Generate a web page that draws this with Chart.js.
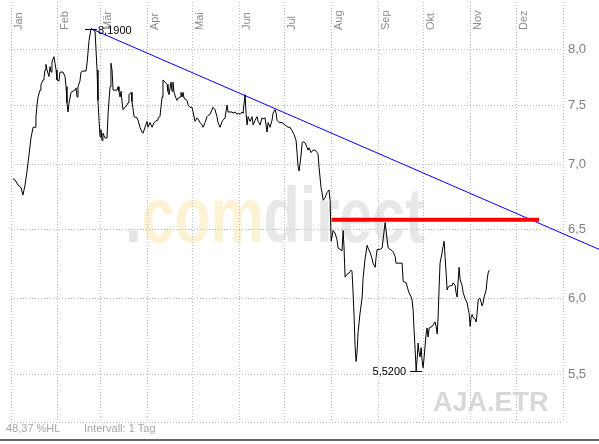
<!DOCTYPE html>
<html>
<head>
<meta charset="utf-8">
<script src="https://cdn.jsdelivr.net/npm/chart.js"></script>
<style>
html,body{margin:0;padding:0;background:#ffffff;}
canvas{display:block;}
</style>
</head>
<body>
<canvas id="c" width="599" height="444"></canvas>
<script>
// ---- data ----
const months = ['Jan','Feb','Mär','Apr','Mai','Jun','Jul','Aug','Sep','Okt','Nov','Dez'];
const monthStarts = [0,31,59,90,120,151,181,212,243,273,304,334,365];
const yTicks = [5.5,6.0,6.5,7.0,7.5,8.0];
const yMin = 5.204, yMax = 8.446;

const days = [
1.3,2.6,4.6,6.6,7.9,9.3,10.6,11.9,13.2,14.6,15.9,16.5,17.2,17.9,19.2,19.8,21.2,21.8,22.5,23.1,
23.8,25.1,25.8,26.5,27.1,28.4,29.1,29.8,30.4,31.7,32.4,34.4,35.7,36.4,37.0,37.7,38.4,39.7,41.0,42.3,
43.0,43.7,44.3,45.6,46.3,47.6,49.6,50.3,51.6,52.9,54.2,54.9,55.6,56.9,57.5,58.2,58.9,59.5,60.2,60.8,
62.2,63.5,64.2,65.5,66.1,66.8,67.5,70.1,70.8,71.4,72.1,72.8,73.4,74.1,75.4,76.7,77.4,78.0,79.4,80.0,
81.4,83.3,84.0,85.3,86.6,87.3,88.6,90.0,90.6,91.9,93.3,94.6,96.6,97.2,98.5,99.9,100.5,101.9,103.2,103.8,
104.5,105.8,106.5,107.1,107.8,109.1,109.8,110.5,111.8,112.4,113.1,113.8,114.4,116.4,117.1,118.4,119.7,120.4,121.7,123.0,
123.7,125.0,126.3,127.0,128.3,129.6,130.3,131.6,132.9,133.6,134.9,136.2,136.9,138.2,139.6,140.2,141.5,142.9,143.5,144.8,
146.2,146.8,148.2,149.5,150.1,151.5,152.8,153.4,154.8,155.4,156.1,156.8,158.1,159.4,160.1,161.4,162.7,163.4,164.7,166.0,
166.7,168.0,169.3,170.0,171.3,172.6,173.3,174.6,175.3,175.9,177.3,179.2,181.2,183.2,184.5,185.9,187.2,188.5,189.2,189.8,
190.5,191.8,192.5,193.1,194.5,195.8,196.4,197.1,198.4,199.7,201.1,202.4,203.0,203.7,205.0,205.7,206.4,207.7,208.3,209.0,
210.3,211.0,211.7,213.0,214.3,215.6,216.3,217.6,218.9,219.6,220.2,220.9,222.2,223.6,224.9,225.5,226.2,226.9,227.5,228.2,
228.8,229.5,230.8,232.2,232.8,234.1,235.5,236.1,237.4,238.8,239.4,240.8,241.4,242.1,244.1,245.4,246.0,247.4,248.7,249.4,
250.7,252.0,252.7,254.0,254.6,257.3,258.6,259.3,261.3,262.6,263.2,264.6,265.2,265.9,266.5,267.2,267.9,268.5,269.2,269.8,
270.5,271.2,271.8,272.5,273.2,273.8,274.5,275.1,275.8,276.5,278.5,279.1,280.4,281.1,281.8,282.4,283.1,283.7,285.1,285.7,
286.4,287.0,287.7,288.4,289.0,290.4,291.7,292.3,293.7,294.3,295.0,295.7,296.3,297.0,298.3,299.0,300.3,301.6,302.3,302.9,
303.6,304.2,304.9,305.6,306.9,307.6,308.2,308.9,309.5,310.2,311.5,312.2,312.8,314.2,314.8,315.5,316.2
];
const prices = [
6.89,6.88,6.84,6.82,6.76,6.84,6.95,7.08,7.22,7.31,7.31,7.40,7.50,7.57,7.63,7.68,7.72,7.74,7.81,7.86,
7.81,7.75,7.84,7.79,7.88,7.93,7.87,7.81,7.72,7.71,7.79,7.79,7.75,7.66,7.52,7.44,7.52,7.61,7.62,7.63,
7.65,7.57,7.66,7.71,7.79,7.80,7.80,7.87,8.08,8.19,8.18,8.17,8.16,7.81,7.54,7.37,7.23,7.29,7.20,7.26,
7.22,7.22,7.43,7.66,7.87,7.81,7.63,7.63,7.66,7.62,7.57,7.62,7.53,7.46,7.48,7.50,7.52,7.59,7.61,7.53,
7.40,7.39,7.37,7.31,7.27,7.26,7.31,7.36,7.31,7.35,7.31,7.35,7.37,7.39,7.40,7.57,7.72,7.70,7.68,7.62,
7.59,7.70,7.62,7.70,7.61,7.56,7.54,7.56,7.57,7.61,7.57,7.61,7.56,7.54,7.50,7.48,7.48,7.44,7.36,7.39,
7.38,7.35,7.33,7.31,7.35,7.40,7.41,7.42,7.46,7.48,7.46,7.40,7.35,7.31,7.36,7.37,7.39,7.50,7.44,7.44,
7.44,7.43,7.44,7.42,7.43,7.42,7.44,7.43,7.59,7.43,7.33,7.40,7.36,7.40,7.33,7.37,7.40,7.36,7.33,7.39,
7.38,7.39,7.27,7.35,7.31,7.37,7.43,7.46,7.43,7.37,7.35,7.35,7.33,7.31,7.31,7.28,7.25,7.20,7.09,6.99,
6.95,7.08,7.18,7.19,7.18,7.14,7.12,7.14,7.10,7.12,7.12,7.10,7.09,6.98,6.82,6.78,6.72,6.74,6.76,6.78,
6.80,6.72,6.41,6.49,6.47,6.42,6.36,6.35,6.34,6.49,6.37,6.15,6.17,6.18,6.20,6.19,6.04,5.87,5.68,5.58,
5.64,5.77,5.90,6.01,6.14,6.28,6.38,6.36,6.33,6.28,6.25,6.22,6.29,6.35,6.35,6.36,6.42,6.55,6.42,6.36,
6.35,6.34,6.33,6.30,6.25,6.25,6.25,6.12,6.11,6.06,6.04,6.01,5.99,5.92,5.79,5.66,5.52,5.59,5.70,5.64,
5.61,5.67,5.59,5.54,5.61,5.68,5.76,5.80,5.74,5.80,5.81,5.82,5.84,5.81,5.76,5.87,6.08,6.25,6.33,6.37,
6.41,6.30,6.18,6.06,6.08,6.09,6.09,6.11,6.09,6.04,6.01,6.13,6.22,6.13,6.09,6.04,6.00,5.97,5.93,5.90,
5.81,5.87,5.89,5.87,5.86,5.84,5.90,5.99,6.00,6.00,5.95,5.97,6.01,6.06,6.13,6.18,6.20
];
const trendDays = [52.9, 388.9];
const trendValues = [8.19, 6.35];
const resistDays = [212, 349.2];
const resistValues = [6.57, 6.57];
const footerTexts = ['48,37 %HL', 'Intervall: 1 Tag'];
const watermarkParts = ['.', 'com', 'direct'];
const symbolText = 'AJA.ETR';

// ---- chart ----
const FONT = '"Liberation Sans", Arial, sans-serif';
Chart.defaults.font.family = FONT;
const fmt = (v, d) => v.toFixed(d).replace('.', ',');

const decorPlugin = {
  id: 'decor',
  beforeDraw(chart) {
    const ctx = chart.ctx;
    ctx.save();
    // .comdirect watermark
    ctx.font = 'bold 77px ' + FONT;
    ctx.textBaseline = 'alphabetic';
    ctx.textAlign = 'left';
    const full = watermarkParts.join('');
    const w = ctx.measureText(full).width;
    const sx = 300 / w;
    ctx.translate(125, 242);
    ctx.scale(sx, 1);
    const cols = ['#e4e4e4', '#fcf2d4', '#e8e8e8'];
    let off = 0;
    watermarkParts.forEach((p, i) => {
      ctx.fillStyle = cols[i];
      ctx.fillText(p, off, 0);
      off += ctx.measureText(p).width;
    });
    ctx.restore();
    ctx.save();
    ctx.font = 'bold 27px ' + FONT;
    ctx.fillStyle = '#d8d8d8';
    ctx.textAlign = 'left';
    ctx.textBaseline = 'alphabetic';
    ctx.fillText(symbolText, 433, 411);
    ctx.restore();
  },
  afterDraw(chart) {
    const ctx = chart.ctx;
    const xs = chart.scales.x, ys = chart.scales.y;
    ctx.save();
    // month labels
    ctx.font = '11px ' + FONT;
    ctx.fillStyle = '#8c8c8c';
    ctx.textAlign = 'left';
    ctx.textBaseline = 'alphabetic';
    months.forEach((m, i) => {
      const x = xs.getPixelForValue(monthStarts[i]);
      ctx.save();
      ctx.translate(x + 10.5, 30);
      ctx.rotate(-Math.PI / 2);
      ctx.fillText(m, 0, 0);
      ctx.restore();
    });
    // high / low annotations
    let hi = 0, lo = 0;
    prices.forEach((p, i) => { if (p > prices[hi]) hi = i; if (p < prices[lo]) lo = i; });
    ctx.strokeStyle = '#000';
    ctx.lineWidth = 1;
    ctx.fillStyle = '#000';
    ctx.textBaseline = 'middle';
    const hx = xs.getPixelForValue(days[hi]), hy = Math.round(ys.getPixelForValue(prices[hi])) + 0.5;
    ctx.beginPath(); ctx.moveTo(hx - 6, hy); ctx.lineTo(hx + 6, hy); ctx.stroke();
    ctx.textAlign = 'left';
    ctx.fillText(fmt(prices[hi], 4), hx + 7, hy + 1);
    const lx = xs.getPixelForValue(days[lo]), ly = Math.round(ys.getPixelForValue(prices[lo])) + 0.5;
    ctx.beginPath(); ctx.moveTo(lx - 6, ly); ctx.lineTo(lx + 6, ly); ctx.stroke();
    ctx.textAlign = 'right';
    ctx.fillText(fmt(prices[lo], 4), lx - 10, ly);
    // footer
    ctx.font = '11px ' + FONT;
    ctx.fillStyle = '#a6a6a6';
    ctx.textAlign = 'left';
    ctx.textBaseline = 'alphabetic';
    ctx.fillText(footerTexts[0], 6, 432);
    ctx.fillText(footerTexts[1], 84, 432);
    ctx.fillStyle = '#666666';
    ctx.fillRect(0, 439, chart.width, 2);
    ctx.restore();
  }
};

const gridColor = '#b8b8c6';

new Chart(document.getElementById('c'), {
  type: 'line',
  data: {
    datasets: [
      {
        data: days.map((d, i) => ({ x: d, y: prices[i] })),
        borderColor: '#000000', borderWidth: 1, pointRadius: 0, tension: 0, fill: false
      },
      {
        data: resistDays.map((d, i) => ({ x: d, y: resistValues[i] })),
        borderColor: '#ff0000', borderWidth: 4, pointRadius: 0, fill: false
      },
      {
        data: trendDays.map((d, i) => ({ x: d, y: trendValues[i] })),
        borderColor: '#0000ff', borderWidth: 1, pointRadius: 0, fill: false, clip: false
      }
    ]
  },
  options: {
    responsive: false,
    animation: false,
    devicePixelRatio: 1,
    layout: { padding: { left: 11, top: 2, right: 0, bottom: 22 } },
    plugins: { legend: { display: false }, tooltip: { enabled: false } },
    scales: {
      x: {
        type: 'linear', position: 'top', min: 0, max: 365,
        afterBuildTicks: (s) => { s.ticks = monthStarts.map(v => ({ value: v })); },
        afterFit: (s) => { s.height = 0; s.paddingLeft = 0; s.paddingRight = 0; },
        ticks: { display: false },
        grid: { color: gridColor, drawTicks: false, lineWidth: 1 },
        border: { display: false, dash: [1, 2] }
      },
      y: {
        type: 'logarithmic', position: 'right', min: yMin, max: yMax,
        afterBuildTicks: (s) => { s.ticks = [yMin].concat(yTicks).map(v => ({ value: v })); },
        afterFit: (s) => { s.width = 36; s.paddingTop = 0; s.paddingBottom = 0; },
        ticks: {
          autoSkip: false, padding: 5, color: '#7f7f7f', font: { size: 13 },
          callback: (v) => (Math.abs(v - yMin) < 1e-6 ? '' : fmt(v, 1))
        },
        grid: { color: gridColor, drawTicks: false, lineWidth: 1 },
        border: { display: false, dash: [1, 2] }
      }
    }
  },
  plugins: [decorPlugin]
});
</script>
</body>
</html>
